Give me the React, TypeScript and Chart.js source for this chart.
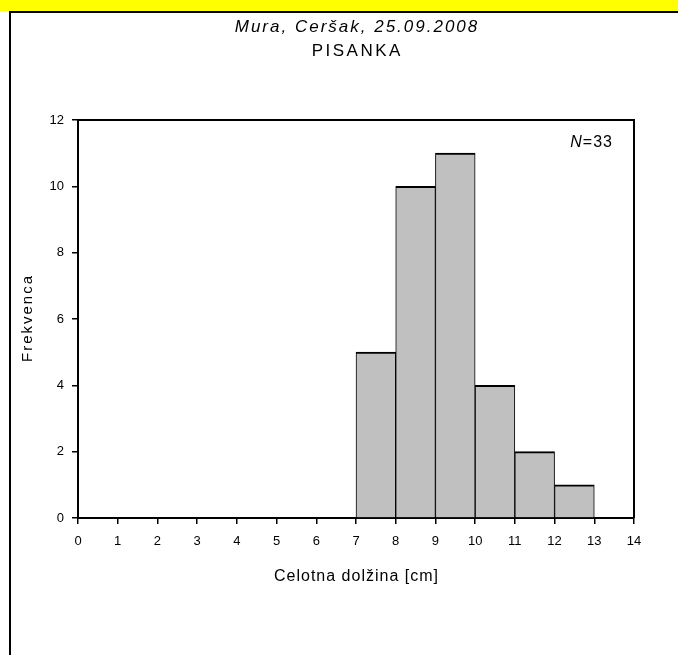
import React, { useEffect, useRef } from "react";
import { Chart, registerables } from "chart.js";

Chart.register(...registerables);

const titleText = "Mura, Ceršak, 25.09.2008";
const subtitleText = "PISANKA";
const xAxisTitle = "Celotna dolžina [cm]";
const yAxisTitle = "Frekvenca";
const binLower = [7, 8, 9, 10, 11, 12];
const binUpper = [8, 9, 10, 11, 12, 13];
const frequencies = [5, 10, 11, 4, 2, 1];
const sampleSize = 33;
const xMin = 0;
const xMax = 14;
const yMin = 0;
const yMax = 12;
const yStep = 2;

const FONT = "Arial, 'Liberation Sans', sans-serif";

function drawSpaced(
  ctx: CanvasRenderingContext2D,
  text: string,
  x: number,
  y: number,
  font: string,
  spacing: number
) {
  ctx.font = font;
  (ctx as any).letterSpacing = spacing + "px";
  const w = ctx.measureText(text).width;
  ctx.textAlign = "left";
  ctx.fillText(text, x - (w - spacing) / 2, y);
  (ctx as any).letterSpacing = "0px";
}

export default function App() {
  const canvasRef = useRef<HTMLCanvasElement | null>(null);

  useEffect(() => {
    const canvas = canvasRef.current;
    if (!canvas) return;

    const framePlugin = {
      id: "framePlugin",
      afterDatasetsDraw(chart: any) {
        const { ctx, chartArea } = chart;
        ctx.save();
        ctx.strokeStyle = "#000";
        ctx.lineWidth = 2;
        ctx.beginPath();
        ctx.moveTo(chartArea.left, chartArea.top);
        ctx.lineTo(chartArea.right, chartArea.top);
        ctx.lineTo(chartArea.right, chartArea.bottom);
        ctx.stroke();
        ctx.restore();
      },
      afterDraw(chart: any) {
        const { ctx, chartArea } = chart;
        const cx = (chartArea.left + chartArea.right) / 2;
        const cy = (chartArea.top + chartArea.bottom) / 2;
        ctx.save();
        ctx.fillStyle = "#000";
        ctx.textBaseline = "alphabetic";

        // titles
        drawSpaced(ctx, titleText, cx, 32, `italic 17px ${FONT}`, 2);
        drawSpaced(ctx, subtitleText, cx, 56, `17px ${FONT}`, 2.5);

        // x axis title
        drawSpaced(ctx, xAxisTitle, cx, chartArea.bottom + 63, `16px ${FONT}`, 1);

        // y axis title
        ctx.save();
        ctx.translate(32, cy);
        ctx.rotate(-Math.PI / 2);
        drawSpaced(ctx, yAxisTitle, 0, 0, `15px ${FONT}`, 2);
        ctx.restore();

        // N=33
        ctx.textBaseline = "middle";
        (ctx as any).letterSpacing = "1px";
        const rest = "=" + String(sampleSize);
        ctx.font = `16px ${FONT}`;
        const restW = ctx.measureText(rest).width;
        const xRight = chartArea.right - 21;
        const y = chartArea.top + 23;
        ctx.textAlign = "left";
        ctx.fillText(rest, xRight - restW, y);
        ctx.font = `italic 16px ${FONT}`;
        ctx.textAlign = "right";
        ctx.fillText("N", xRight - restW, y);
        (ctx as any).letterSpacing = "0px";
        ctx.restore();
      },
    };

    const points = binLower.map((lo, i) => ({ x: (lo + binUpper[i]) / 2, y: frequencies[i] }));

    const chart = new Chart(canvas, {
      type: "bar",
      data: {
        datasets: [
          {
            data: points as any,
            backgroundColor: "#c0c0c0",
            borderColor: "#000",
            borderWidth: { top: 2, left: 1, right: 1, bottom: 0 } as any,
            borderSkipped: "start",
            barPercentage: 1,
            categoryPercentage: 1,
          },
        ],
      },
      options: {
        responsive: false,
        animation: false,
        devicePixelRatio: 1,
        layout: { padding: { left: 12, right: 44, top: 120, bottom: 0 } },
        plugins: {
          legend: { display: false },
          tooltip: { enabled: false },
          title: { display: false },
        },
        scales: {
          x: {
            type: "linear",
            min: xMin,
            max: xMax,
            offset: false,
            afterFit(scale: any) {
              scale.height = 137;
            },
            ticks: {
              stepSize: 1,
              color: "#000",
              padding: 10,
              maxRotation: 0,
              autoSkip: false,
              font: { family: FONT, size: 13 },
            },
            grid: {
              display: true,
              offset: false,
              drawOnChartArea: false,
              drawTicks: true,
              tickLength: 6,
              color: "#000",
              lineWidth: 1.5,
            },
            border: { display: true, color: "#000", width: 2 },
            title: { display: false },
          },
          y: {
            type: "linear",
            min: yMin,
            max: yMax,
            afterFit(scale: any) {
              scale.width = 66;
            },
            ticks: {
              stepSize: yStep,
              color: "#000",
              padding: 8,
              font: { family: FONT, size: 13 },
            },
            grid: {
              display: true,
              drawOnChartArea: false,
              drawTicks: true,
              tickLength: 6,
              color: "#000",
              lineWidth: 1.5,
            },
            border: { display: true, color: "#000", width: 2 },
            title: { display: false },
          },
        },
      },
      plugins: [framePlugin],
    });

    return () => {
      chart.destroy();
    };
  }, []);

  return (
    <div
      style={{
        position: "absolute",
        left: 0,
        top: 0,
        width: 678,
        height: 655,
        background: "#fff",
        overflow: "hidden",
      }}
    >
      <div style={{ position: "absolute", left: 0, top: 0, width: 678, height: 11, background: "#ffff00" }} />
      <div
        style={{
          position: "absolute",
          left: 9,
          top: 11,
          width: 669,
          height: 644,
          boxSizing: "border-box",
          borderTop: "2px solid #000",
          borderLeft: "2px solid #000",
        }}
      />
      <canvas
        ref={canvasRef}
        width={678}
        height={655}
        style={{ position: "absolute", left: 0, top: 0, width: 678, height: 655 }}
      />
    </div>
  );
}
